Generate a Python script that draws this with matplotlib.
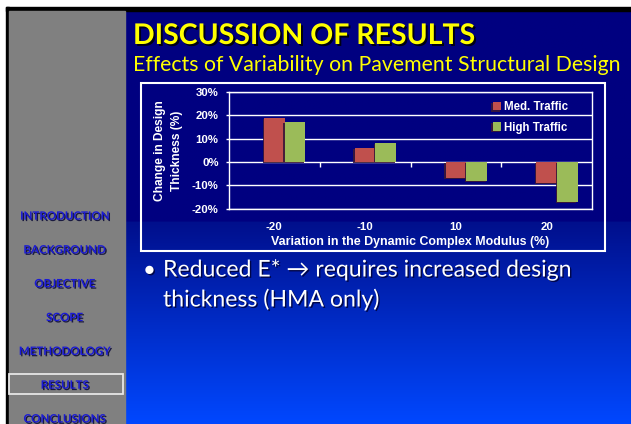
import numpy as np
import matplotlib
matplotlib.use("Agg")
import matplotlib.pyplot as plt
import matplotlib.patheffects as pe
from matplotlib.patches import Rectangle
from matplotlib.markers import TICKDOWN
from matplotlib.colors import to_rgb

# ---- content -------------------------------------------------------------
categories = ["-20", "-10", "10", "20"]
med_traffic = [18.7, 6.1, -6.7, -9.1]
high_traffic = [17.0, 8.3, -8.0, -17.0]
series_names = ["Med. Traffic", "High Traffic"]
y_ticks = [-20, -10, 0, 10, 20, 30]
x_title = "Variation in the Dynamic Complex Modulus (%)"
y_title = "Change in Design\nThickness (%)"

nav_items = ["INTRODUCTION", "BACKGROUND", "OBJECTIVE", "SCOPE",
             "METHODOLOGY", "RESULTS", "CONCLUSIONS"]
active_item = "RESULTS"
slide_title = "DISCUSSION OF RESULTS"
slide_subtitle = "Effects of Variability on Pavement Structural Design"
bullet_lines = ["Reduced E* \u2192 requires increased design",
                "thickness (HMA only)"]

# ---- page setup (pixel coordinates, y downwards) --------------------------
W, H = 631, 424
fig = plt.figure(figsize=(W / 100, H / 100), dpi=100, facecolor="white")
bg = fig.add_axes([0, 0, 1, 1])
bg.set_xlim(0, W)
bg.set_ylim(H, 0)
bg.axis("off")

SLIDE_FONT = ["Lato", "DejaVu Sans"]
CHART_FONT = ["Liberation Sans", "DejaVu Sans"]

# background: navy on top, fading to bright blue towards the bottom
ys = np.linspace(11, H, 500)
navy = np.array(to_rgb("#000080"))
c0 = np.array([0.0, 0.06, 0.55])
c1 = np.array([0.0, 0.28, 1.0])
t = np.clip((ys - 222) / (H - 222), 0, 1)[:, None]
cols = np.where(ys[:, None] < 222, navy, c0 + (c1 - c0) * t)
grad = np.repeat(cols[:, None, :], 2, axis=1)
bg.imshow(grad, extent=(125, W, H, 11), aspect="auto", zorder=0,
          interpolation="bilinear")

# black frame lines and grey navigation column
bg.add_patch(Rectangle((6, 7), W - 6, 4, color="black", zorder=1))
bg.add_patch(Rectangle((6, 7), 3, H - 7, color="black", zorder=1))
bg.add_patch(Rectangle((9, 11), 116, H - 11, color="#808080", zorder=1))

shadow = [pe.withSimplePatchShadow(offset=(1.4, -1.4), shadow_rgbFace="black",
                                   alpha=0.85)]
soft_shadow = [pe.withSimplePatchShadow(offset=(1.0, -1.0),
                                        shadow_rgbFace="#000030", alpha=0.8)]

bg.text(133, 44, slide_title, fontsize=20.5, fontweight="bold",
        color="#ffff00", family=SLIDE_FONT, va="baseline", ha="left",
        path_effects=shadow, zorder=3)
bg.text(133, 71, slide_subtitle, fontsize=15.3, color="#ffff00",
        family=SLIDE_FONT, va="baseline", ha="left", zorder=3)

# navigation entries
for i, item in enumerate(nav_items):
    yc = 215.7 + i * 33.8
    bg.text(64.5, yc + 4, item, fontsize=8.3, fontweight="bold",
            color="#1a1ad6", family=SLIDE_FONT, ha="center", va="baseline",
            path_effects=soft_shadow, zorder=3)
    if item == active_item:
        bg.add_patch(Rectangle((9, yc - 11), 114, 20, fill=False,
                               edgecolor="#e6e6e6", lw=1.3, zorder=2))

# bullet text
bg.text(143, 276.5, "\u2022", fontsize=16, color="white", family=SLIDE_FONT,
        va="baseline", ha="left", path_effects=soft_shadow, zorder=3)
for k, line in enumerate(bullet_lines):
    bg.text(163, 276.5 + k * 30, line, fontsize=16.6, color="white",
            family=SLIDE_FONT, va="baseline", ha="left",
            path_effects=soft_shadow, zorder=3)

# white frame around the chart
bg.add_patch(Rectangle((141, 83), 464, 168, fill=False, edgecolor="white",
                       lw=1.5, zorder=2))

# ---- chart ------------------------------------------------------------------
pl, pr, pt, pb = 229, 592, 92, 208.7
ax = fig.add_axes([pl / W, 1 - pb / H, (pr - pl) / W, (pb - pt) / H])
ax.patch.set_alpha(0)

x = np.arange(len(categories))
width = 0.228
bar_shadow = [pe.SimplePatchShadow(offset=(-1.0, -0.8),
                                   shadow_rgbFace="#3a1838", alpha=0.9),
              pe.Normal()]
b1 = ax.bar(x, med_traffic, width, color="#C0504D", label=series_names[0],
            zorder=3)
b2 = ax.bar(x + width, high_traffic, width, color="#9BBB59",
            label=series_names[1], zorder=3)
for bar in list(b1) + list(b2):
    bar.set_path_effects(bar_shadow)

ax.set_xlim(-0.5, len(categories) - 0.5)
ax.set_ylim(y_ticks[0], y_ticks[-1])
ax.set_yticks(y_ticks)
ax.set_yticklabels([f"{v}%" for v in y_ticks])
ax.set_xticks(x)
ax.set_xticklabels(categories)

ax.yaxis.grid(True, color="white", lw=1.0, zorder=1)
ax.set_axisbelow(True)
for s in ax.spines.values():
    s.set_color("white")
    s.set_linewidth(1.0)

# category separators on the zero line
bounds = x[:-1] + 0.5
ax.plot(bounds, np.zeros_like(bounds, dtype=float), ls="none",
        marker=TICKDOWN, markersize=3.6, markeredgewidth=1.0, color="white",
        zorder=2)

ax.tick_params(axis="y", direction="out", length=2.5, width=1.0,
               color="white", pad=5.0, labelcolor="white")
ax.tick_params(axis="x", length=0, pad=9.5, labelcolor="white")
for lab in ax.get_xticklabels() + ax.get_yticklabels():
    lab.set_family(CHART_FONT)
    lab.set_fontweight("bold")
    lab.set_fontsize(8.2)

ax.set_xlabel(x_title, fontsize=8.9, fontweight="bold", color="white",
              family=CHART_FONT)
ax.xaxis.set_label_coords(0.5, (pb - 242.3) / (pb - pt))
ax.xaxis.label.set_va("center")
ax.set_ylabel(y_title, fontsize=8.6, fontweight="bold", color="white",
              family=CHART_FONT, linespacing=1.45)
ax.yaxis.set_label_coords((168.5 - pl) / (pr - pl), (pb - 151) / (pb - pt))
ax.yaxis.label.set_va("center")

leg = ax.legend(loc="upper left",
                bbox_to_anchor=((492.5 - pl) / (pr - pl), (pb - 101) / (pb - pt)),
                frameon=False, borderpad=0, borderaxespad=0,
                handlelength=0.75, handleheight=0.8, handletextpad=0.25,
                labelspacing=0.75,
                prop={"family": CHART_FONT, "weight": "bold", "size": 8.3})
for txt in leg.get_texts():
    txt.set_color("white")

fig.savefig("out.png", dpi=100, facecolor="white")
